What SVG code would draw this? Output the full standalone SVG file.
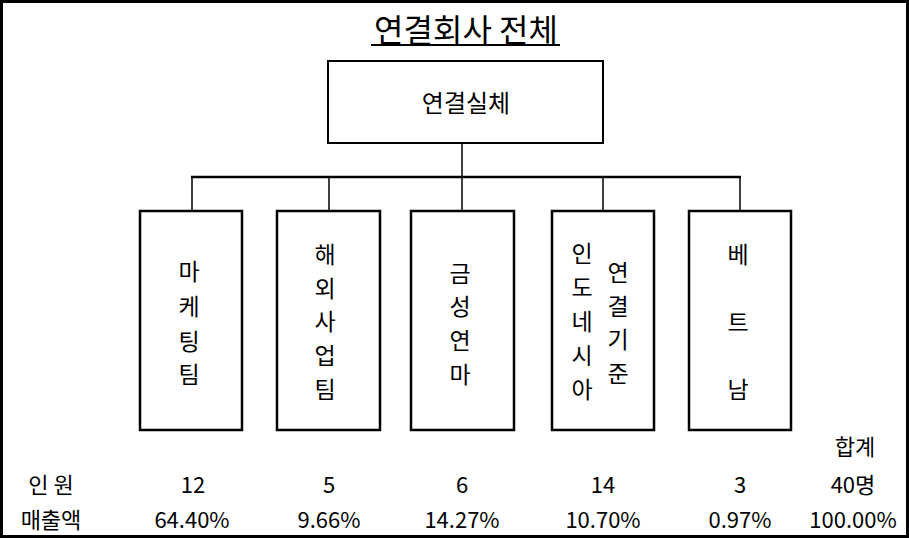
<svg xmlns="http://www.w3.org/2000/svg" width="909" height="538" viewBox="0 0 909 538">
<style>
text{font-family:"Noto Sans CJK KR","Liberation Sans",sans-serif;fill:#000;text-anchor:middle;dominant-baseline:central}
.box{fill:#fff;stroke:#000;stroke-width:2.5}
.con{fill:none;stroke:#000;stroke-width:1.5}
.t{font-size:32px}
.m{font-size:24px}
.v{font-size:23px}
.b{font-size:22px}
</style>
<rect x="1.5" y="1.5" width="906" height="535" fill="#fff" stroke="#000" stroke-width="3"/>
<g id="title">
<text class="t" x="466" y="28">연결회사 전체</text>
<line x1="371" y1="45" x2="560" y2="45" stroke="#000" stroke-width="2"/>
</g>
<g id="connectors">
<line class="con" x1="462" y1="143" x2="462" y2="177"/>
<line x1="191" y1="177" x2="741" y2="177" stroke="#000" stroke-width="2.5"/>
<line class="con" x1="192" y1="177" x2="192" y2="211"/>
<line class="con" x1="329" y1="177" x2="329" y2="211"/>
<line class="con" x1="462" y1="177" x2="462" y2="211"/>
<line class="con" x1="603" y1="177" x2="603" y2="211"/>
<line class="con" x1="740" y1="177" x2="740" y2="211"/>
</g>
<g id="root">
<rect x="328" y="61" width="275" height="82" fill="#fff" stroke="#000" stroke-width="2"/>
<text class="m" x="466" y="101">연결실체</text>
</g>
<g id="n1">
<rect class="box" x="140" y="211" width="102" height="219"/>
<text class="v" x="189" y="270">마</text>
<text class="v" x="189" y="305">케</text>
<text class="v" x="189" y="340">팅</text>
<text class="v" x="189" y="373">팀</text>
</g>
<g id="n2">
<rect class="box" x="277" y="211" width="103" height="219"/>
<text class="v" x="325" y="253">해</text>
<text class="v" x="325" y="287">외</text>
<text class="v" x="325" y="320">사</text>
<text class="v" x="325" y="354">업</text>
<text class="v" x="325" y="388">팀</text>
</g>
<g id="n3">
<rect class="box" x="411" y="211" width="103" height="219"/>
<text class="v" x="460" y="272">금</text>
<text class="v" x="460" y="305">성</text>
<text class="v" x="460" y="339">연</text>
<text class="v" x="460" y="373">마</text>
</g>
<g id="n4">
<rect class="box" x="552" y="211" width="102" height="219"/>
<text class="v" x="582" y="252">인</text>
<text class="v" x="582" y="286">도</text>
<text class="v" x="582" y="320">네</text>
<text class="v" x="582" y="354">시</text>
<text class="v" x="582" y="388">아</text>
<text class="v" x="618" y="271">연</text>
<text class="v" x="618" y="305">결</text>
<text class="v" x="618" y="338">기</text>
<text class="v" x="618" y="372">준</text>
</g>
<g id="n5">
<rect class="box" x="689" y="211" width="102" height="219"/>
<text class="v" x="738" y="253">베</text>
<text class="v" x="738" y="321">트</text>
<text class="v" x="738" y="388">남</text>
</g>
<g id="table">
<text class="b" x="855" y="445">합계</text>
<text class="b" x="51" y="483">인 원</text>
<text class="b" x="193" y="483">12</text>
<text class="b" x="329" y="483">5</text>
<text class="b" x="462" y="483">6</text>
<text class="b" x="603" y="483">14</text>
<text class="b" x="740" y="483">3</text>
<text class="b" x="853" y="483">40명</text>
<text class="b" x="51" y="518">매출액</text>
<text class="b" x="192" y="518">64.40%</text>
<text class="b" x="329" y="518">9.66%</text>
<text class="b" x="462" y="518">14.27%</text>
<text class="b" x="603" y="518">10.70%</text>
<text class="b" x="740" y="518">0.97%</text>
<text class="b" x="853" y="518">100.00%</text>
</g>
</svg>
